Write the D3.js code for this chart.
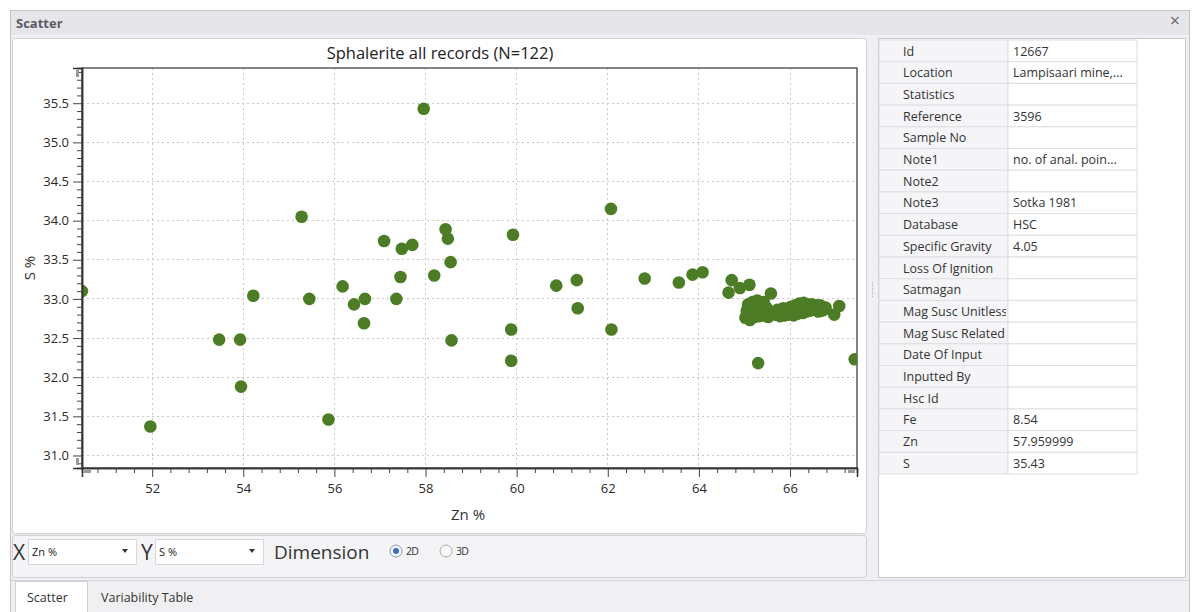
<!DOCTYPE html>
<html>
<head>
<meta charset="utf-8">
<script src="https://cdn.jsdelivr.net/npm/d3@7"></script>
<style>
  body { margin: 0; background: #ffffff; }
  text { font-family: "Open Sans", "Noto Sans", sans-serif; }
</style>
</head>
<body>
<svg id="win" width="1195" height="612"></svg>
<script>
"use strict";

// Zn % values of the 122 records
var zn = [
    50.46, 51.96, 53.47, 53.93, 53.95, 54.22, 55.28, 55.45, 55.87, 56.18,
    56.43, 56.67, 56.65, 57.09, 57.48, 57.71, 57.45, 57.36, 57.96, 58.44,
    58.49, 58.55, 58.19, 58.57, 59.92, 59.88, 59.88, 60.87, 61.32, 61.34,
    62.07, 62.08, 62.81, 63.56, 63.86, 64.08, 64.72, 64.65, 64.90, 65.11,
    65.58, 65.30, 67.42, 67.08, 66.97,
    65.02, 65.05, 65.08, 65.10, 65.12, 65.15, 65.18, 65.20, 65.22, 65.25,
    65.28, 65.30, 65.32, 65.35, 65.38, 65.40, 65.42, 65.45, 65.48, 65.52,
    65.55, 65.60,
    65.68, 65.72, 65.75, 65.78, 65.80, 65.83, 65.85, 65.88, 65.90, 65.92,
    65.95, 65.97, 66.00, 66.02, 66.04, 66.06, 66.08, 66.10, 66.12, 66.14,
    66.16, 66.18, 66.20, 66.22, 66.24, 66.26, 66.28, 66.30, 66.32, 66.34,
    66.36, 66.38, 66.40, 66.42, 66.44, 66.46, 66.48, 66.50, 66.52, 66.55,
    66.57, 66.59, 66.61, 66.63, 66.65, 66.67, 66.69, 66.71, 66.73, 66.75,
    66.77, 66.78, 66.70, 66.62, 66.66
]

// S % values, same order
var s = [
    33.10, 31.37, 32.48, 32.48, 31.88, 33.04, 34.05, 33.00, 31.46, 33.16,
    32.93, 33.00, 32.69, 33.74, 33.64, 33.69, 33.28, 33.00, 35.43, 33.89,
    33.77, 33.47, 33.30, 32.47, 33.82, 32.61, 32.21, 33.17, 33.24, 32.88,
    34.15, 32.61, 33.26, 33.21, 33.31, 33.34, 33.24, 33.08, 33.14, 33.18,
    33.07, 32.18, 32.23, 32.91, 32.80,
    32.76, 32.85, 32.93, 32.80, 32.73, 32.88, 32.96, 32.83, 32.77, 32.90,
    32.98, 32.85, 32.78, 32.93, 32.86, 32.79, 32.96, 32.82, 32.89, 32.77,
    32.84, 32.81,
    32.80, 32.86, 32.82, 32.78, 32.85, 32.81, 32.88, 32.79, 32.84, 32.82,
    32.87, 32.80, 32.85, 32.90, 32.82, 32.87, 32.79, 32.84, 32.92, 32.86,
    32.81, 32.89, 32.94, 32.84, 32.88, 32.92, 32.82, 32.95, 32.87, 32.90,
    32.84, 32.93, 32.88, 32.91, 32.85, 32.89, 32.93, 32.87, 32.90, 32.86,
    32.89, 32.92, 32.87, 32.90, 32.86, 32.89, 32.87, 32.90, 32.86, 32.88,
    32.87, 32.89, 32.85, 32.84, 32.92
]

var xTicks = [52, 54, 56, 58, 60, 62, 64, 66]
var yTicks = [31.0, 31.5, 32.0, 32.5, 33.0, 33.5, 34.0, 34.5, 35.0, 35.5]

var fieldNames = ["Id", "Location", "Statistics", "Reference", "Sample No", "Note1", "Note2",
    "Note3", "Database", "Specific Gravity", "Loss Of Ignition", "Satmagan",
    "Mag Susc Unitless", "Mag Susc Related", "Date Of Input", "Inputted By", "Hsc Id",
    "Fe", "Zn", "S"]
var fieldValues = ["12667", "Lampisaari mine,...", "", "3596", "", "no. of anal. poin...", "",
    "Sotka 1981", "HSC", "4.05", "", "", "", "", "", "", "", "8.54", "57.959999", "35.43"]

var svg = d3.select("#win")

// window chrome
svg.append("rect").attr("x", 10.5).attr("y", 10.5).attr("width", 1179).attr("height", 610)
    .attr("fill", "#f0f0f2").attr("stroke", "#c4c4ca")
svg.append("rect").attr("x", 11).attr("y", 11).attr("width", 1178).attr("height", 24)
    .attr("fill", "#e6e6ea")
svg.append("text").attr("x", 16).attr("y", 28).text("Scatter")
    .attr("font-size", 13).attr("font-weight", "bold").attr("fill", "#5a5a64")
svg.append("text").attr("x", 1175).attr("y", 27).text("\u00d7").attr("text-anchor", "middle")
    .attr("font-size", 18).attr("fill", "#6a6a72")

// chart panel
svg.append("rect").attr("x", 12.5).attr("y", 38.5).attr("width", 854).attr("height", 495)
    .attr("fill", "#ffffff").attr("stroke", "#cfcfd5").attr("rx", 3)

var plotL = 82, plotR = 857, plotT = 68, plotB = 468

var x = d3.scaleLinear().domain([50.46, 67.47]).range([plotL, plotR])
var y = d3.scaleLinear().domain([30.84, 35.95]).range([plotB, plotT])

svg.append("text").attr("x", 440).attr("y", 59).attr("text-anchor", "middle")
    .attr("font-size", 16.5).attr("fill", "#222").text("Sphalerite all records (N=122)")

// grid
var grid = svg.append("g")
grid.selectAll(".gx").data(xTicks).join("line")
    .attr("x1", d => x(d)).attr("x2", d => x(d)).attr("y1", plotT).attr("y2", plotB)
grid.selectAll(".gy").data(yTicks).join("line")
    .attr("x1", plotL).attr("x2", plotR).attr("y1", d => y(d)).attr("y2", d => y(d))
grid.selectAll("line").attr("stroke", "#c8c8c8").attr("stroke-dasharray", "2,3")
    .attr("shape-rendering", "crispEdges")

// frame
svg.append("rect").attr("x", plotL).attr("y", plotT).attr("width", plotR - plotL).attr("height", plotB - plotT)
    .attr("fill", "none").attr("stroke", "#333").attr("stroke-width", 1.2)

// points
svg.append("clipPath").attr("id", "plotClip").append("rect")
    .attr("x", plotL).attr("y", plotT).attr("width", plotR - plotL).attr("height", plotB - plotT)
svg.append("g").attr("clip-path", "url(#plotClip)")
    .selectAll("circle").data(d3.range(zn.length)).join("circle")
    .attr("cx", i => x(zn[i])).attr("cy", i => y(s[i])).attr("r", 6.3)
    .attr("fill", "#4d7c26")

// axes
var xMinor = d3.range(50.8, 67.4, 0.4).filter(v => Math.abs(v / 2 - Math.round(v / 2)) > 0.01)
var yMinor = d3.range(30.9, 35.95, 0.1).filter(v => Math.abs(v * 2 - Math.round(v * 2)) > 0.01)

var gx = svg.append("g").attr("transform", "translate(0," + plotB + ")")
gx.call(d3.axisBottom(x).tickValues(xTicks).tickSize(9).tickPadding(7).tickFormat(d3.format("d")))
svg.append("g").attr("transform", "translate(0," + plotB + ")")
    .call(d3.axisBottom(x).tickValues(xMinor).tickSize(5).tickFormat(""))
var gy = svg.append("g").attr("transform", "translate(" + plotL + ",0)")
gy.call(d3.axisLeft(y).tickValues(yTicks).tickSize(9).tickPadding(4).tickFormat(d3.format(".1f")))
svg.append("g").attr("transform", "translate(" + plotL + ",0)")
    .call(d3.axisLeft(y).tickValues(yMinor).tickSize(5).tickFormat(""))
svg.selectAll(".domain").attr("stroke", "#333").attr("stroke-width", 1.5)
svg.selectAll(".tick line").attr("stroke", "#444")
svg.selectAll(".tick text").attr("font-size", 13).attr("fill", "#2a2a2a")
    .style("font-family", "'Open Sans', sans-serif")

// little scroll grips at axis ends
svg.append("rect").attr("x", 76).attr("y", 70).attr("width", 3).attr("height", 7).attr("fill", "#999")
svg.append("rect").attr("x", 76).attr("y", 458).attr("width", 3).attr("height", 7).attr("fill", "#999")
svg.append("rect").attr("x", 84).attr("y", 470).attr("width", 7).attr("height", 3).attr("fill", "#999")
svg.append("rect").attr("x", 848).attr("y", 470).attr("width", 7).attr("height", 3).attr("fill", "#999")

svg.append("text").attr("x", 468).attr("y", 520).attr("text-anchor", "middle")
    .attr("font-size", 15).attr("fill", "#333").text("Zn %")
svg.append("text").attr("transform", "translate(35,268) rotate(-90)").attr("text-anchor", "middle")
    .attr("font-size", 15).attr("fill", "#333").text("S %")

// controls bar
svg.append("rect").attr("x", 12.5).attr("y", 535.5).attr("width", 854).attr("height", 42)
    .attr("fill", "#f4f4f6").attr("stroke", "#cfcfd5").attr("rx", 3)

function combo(x0, label) {
    svg.append("rect").attr("x", x0 + 0.5).attr("y", 539.5).attr("width", 108).attr("height", 25)
        .attr("fill", "#fff").attr("stroke", "#d6d6dc")
    svg.append("text").attr("x", x0 + 4).attr("y", 556).attr("font-size", 11).attr("fill", "#222").text(label)
    svg.append("path").attr("d", "M" + (x0 + 94) + ",549 l6,0 l-3,4 z").attr("fill", "#333")
}
svg.append("text").attr("x", 13).attr("y", 560).attr("font-size", 21).attr("fill", "#333").text("X")
combo(28, "Zn %")
svg.append("text").attr("x", 141).attr("y", 560).attr("font-size", 21).attr("fill", "#333").text("Y")
combo(155, "S %")
svg.append("text").attr("x", 274).attr("y", 559).attr("font-size", 19).attr("fill", "#333").text("Dimension")

svg.append("circle").attr("cx", 396).attr("cy", 551).attr("r", 6).attr("fill", "#f4f8fc").attr("stroke", "#8a9ab0")
svg.append("circle").attr("cx", 396).attr("cy", 551).attr("r", 3).attr("fill", "#3d6fc0")
svg.append("text").attr("x", 406).attr("y", 555).attr("font-size", 10.5).attr("fill", "#333")
    .attr("letter-spacing", -0.8).text("2D")
svg.append("circle").attr("cx", 446).attr("cy", 551).attr("r", 6).attr("fill", "#f8f8f8").attr("stroke", "#a8a8b0")
svg.append("text").attr("x", 456).attr("y", 555).attr("font-size", 10.5).attr("fill", "#333")
    .attr("letter-spacing", -0.8).text("3D")

// splitter grip
svg.append("line").attr("x1", 872.5).attr("x2", 872.5).attr("y1", 282).attr("y2", 298)
    .attr("stroke", "#b0b0b8").attr("stroke-dasharray", "1,1")

// property table panel
svg.append("rect").attr("x", 878.5).attr("y", 38.5).attr("width", 307).attr("height", 539)
    .attr("fill", "#ffffff").attr("stroke", "#c9c9cf")

var rowH = 21.7, tTop = 40, c0 = 879, c1 = 1008, c2 = 1137
var table = svg.append("g")
fieldNames.forEach(function (name, i) {
    var ry = tTop + i * rowH
    table.append("rect").attr("x", c0).attr("y", ry).attr("width", c1 - c0).attr("height", rowH)
        .attr("fill", "#f5f5f7").attr("stroke", "#dedee3")
    table.append("rect").attr("x", c1).attr("y", ry).attr("width", c2 - c1).attr("height", rowH)
        .attr("fill", "#ffffff").attr("stroke", "#dedee3")
})
svg.append("clipPath").attr("id", "labClip").append("rect")
    .attr("x", c0).attr("y", tTop).attr("width", c1 - c0 - 2).attr("height", 500)
table.append("g").attr("clip-path", "url(#labClip)").selectAll("text").data(fieldNames).join("text")
    .attr("x", 903).attr("y", (d, i) => tTop + i * rowH + 15.5)
    .attr("font-size", 12.5).attr("fill", "#333").text(d => d)
table.append("g").selectAll("text").data(fieldValues).join("text")
    .attr("x", 1013).attr("y", (d, i) => tTop + i * rowH + 15.5)
    .attr("font-size", 12.5).attr("fill", "#333").text(d => d)

// tabs
svg.append("line").attr("x1", 11).attr("x2", 1189).attr("y1", 580.5).attr("y2", 580.5).attr("stroke", "#d4d4da")
svg.append("path").attr("d", "M15.5,612 L15.5,581.5 L87.5,581.5 L87.5,612").attr("fill", "#ffffff").attr("stroke", "#cfcfd5")
svg.append("text").attr("x", 27).attr("y", 602).attr("font-size", 12.5).attr("fill", "#333").text("Scatter")
svg.append("text").attr("x", 101).attr("y", 602).attr("font-size", 12.5).attr("fill", "#333").text("Variability Table")
</script>
</body>
</html>
